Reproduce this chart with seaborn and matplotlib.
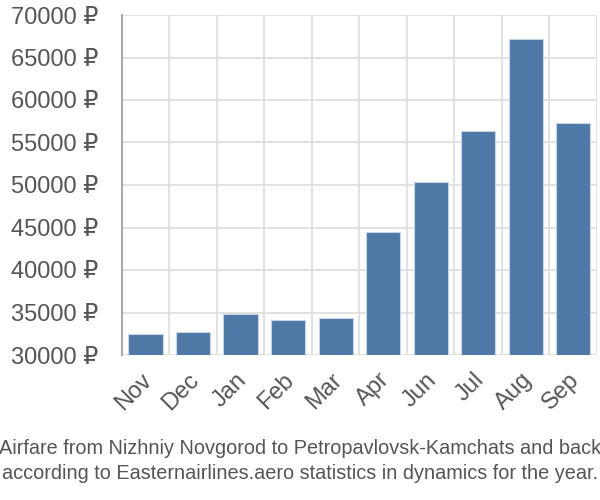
import matplotlib
matplotlib.use("Agg")
import matplotlib.pyplot as plt
import matplotlib.transforms as mtransforms
import seaborn as sns
import pandas as pd
import numpy as np
from matplotlib.ticker import FixedLocator
from matplotlib import font_manager

months = ["Nov", "Dec", "Jan", "Feb", "Mar", "Apr", "Jun", "Jul", "Aug", "Sep"]
prices = [32450, 32700, 34800, 34100, 34400, 44500, 50300, 56400, 67200, 57300]
yticks = [30000, 35000, 40000, 45000, 50000, 55000, 60000, 65000, 70000]
caption = ("Airfare from Nizhniy Novgorod to Petropavlovsk-Kamchats and back\n"
           "according to Easternairlines.aero statistics in dynamics for the year.")

sns.set_style("white")
plt.rcParams['font.family'] = ['Liberation Sans', 'DejaVu Sans']

names = {f.name for f in font_manager.fontManager.ttflist}
cap_family = ['Liberation Sans Narrow'] if 'Liberation Sans Narrow' in names else ['Liberation Sans']
cap_size = 16.5 if 'Liberation Sans Narrow' in names else 14.3

df = pd.DataFrame({"month": months, "price": prices})

fig = plt.figure(figsize=(6, 5), dpi=100)
ax = fig.add_axes([0.203, 0.29, 0.792, 0.68])
sns.barplot(data=df, x="month", y="price", color="#4e79a7", saturation=1,
            width=0.72, edgecolor="#c6d4e6", linewidth=0.8, ax=ax, zorder=3)

ax.set_ylim(30000, 70000)
ax.set_xlim(-0.5, len(months) - 0.5)
ax.set_yticks(yticks)
ax.set_yticklabels([f"{v} ₽" for v in yticks])
ax.xaxis.set_minor_locator(FixedLocator(np.arange(-0.5, len(months), 1.0)))
ax.grid(True, axis="y", color="#dddddd", linewidth=1.2, zorder=0)
ax.grid(True, axis="x", which="minor", color="#dddddd", linewidth=1.2, zorder=0)
ax.grid(False, axis="x", which="major")
ax.set_axisbelow(True)

ax.tick_params(axis="y", length=16, color="#dddddd", width=1.2, labelsize=17,
               labelcolor="#555555", pad=1)
ax.tick_params(axis="x", which="major", length=0, labelsize=17, labelcolor="#555555", pad=10)
ax.tick_params(axis="x", which="minor", length=15, color="#dddddd", width=1.2)
offset = mtransforms.ScaledTranslation(-5 / 100, 0, fig.dpi_scale_trans)
for lbl in ax.get_xticklabels():
    lbl.set_rotation(45)
    lbl.set_ha("right")
    lbl.set_rotation_mode("anchor")
    lbl.set_transform(lbl.get_transform() + offset)

for s in ["top", "right", "bottom"]:
    ax.spines[s].set_visible(False)
ax.spines["left"].set_color("#aaaaaa")
ax.spines["left"].set_linewidth(1.5)
ax.set_xlabel("")
ax.set_ylabel("")

fig.text(0.5, 0.078, caption, ha="center", va="center", fontsize=cap_size,
         family=cap_family, color="#555555", linespacing=1.45)

fig.savefig("out.png", dpi=100)
